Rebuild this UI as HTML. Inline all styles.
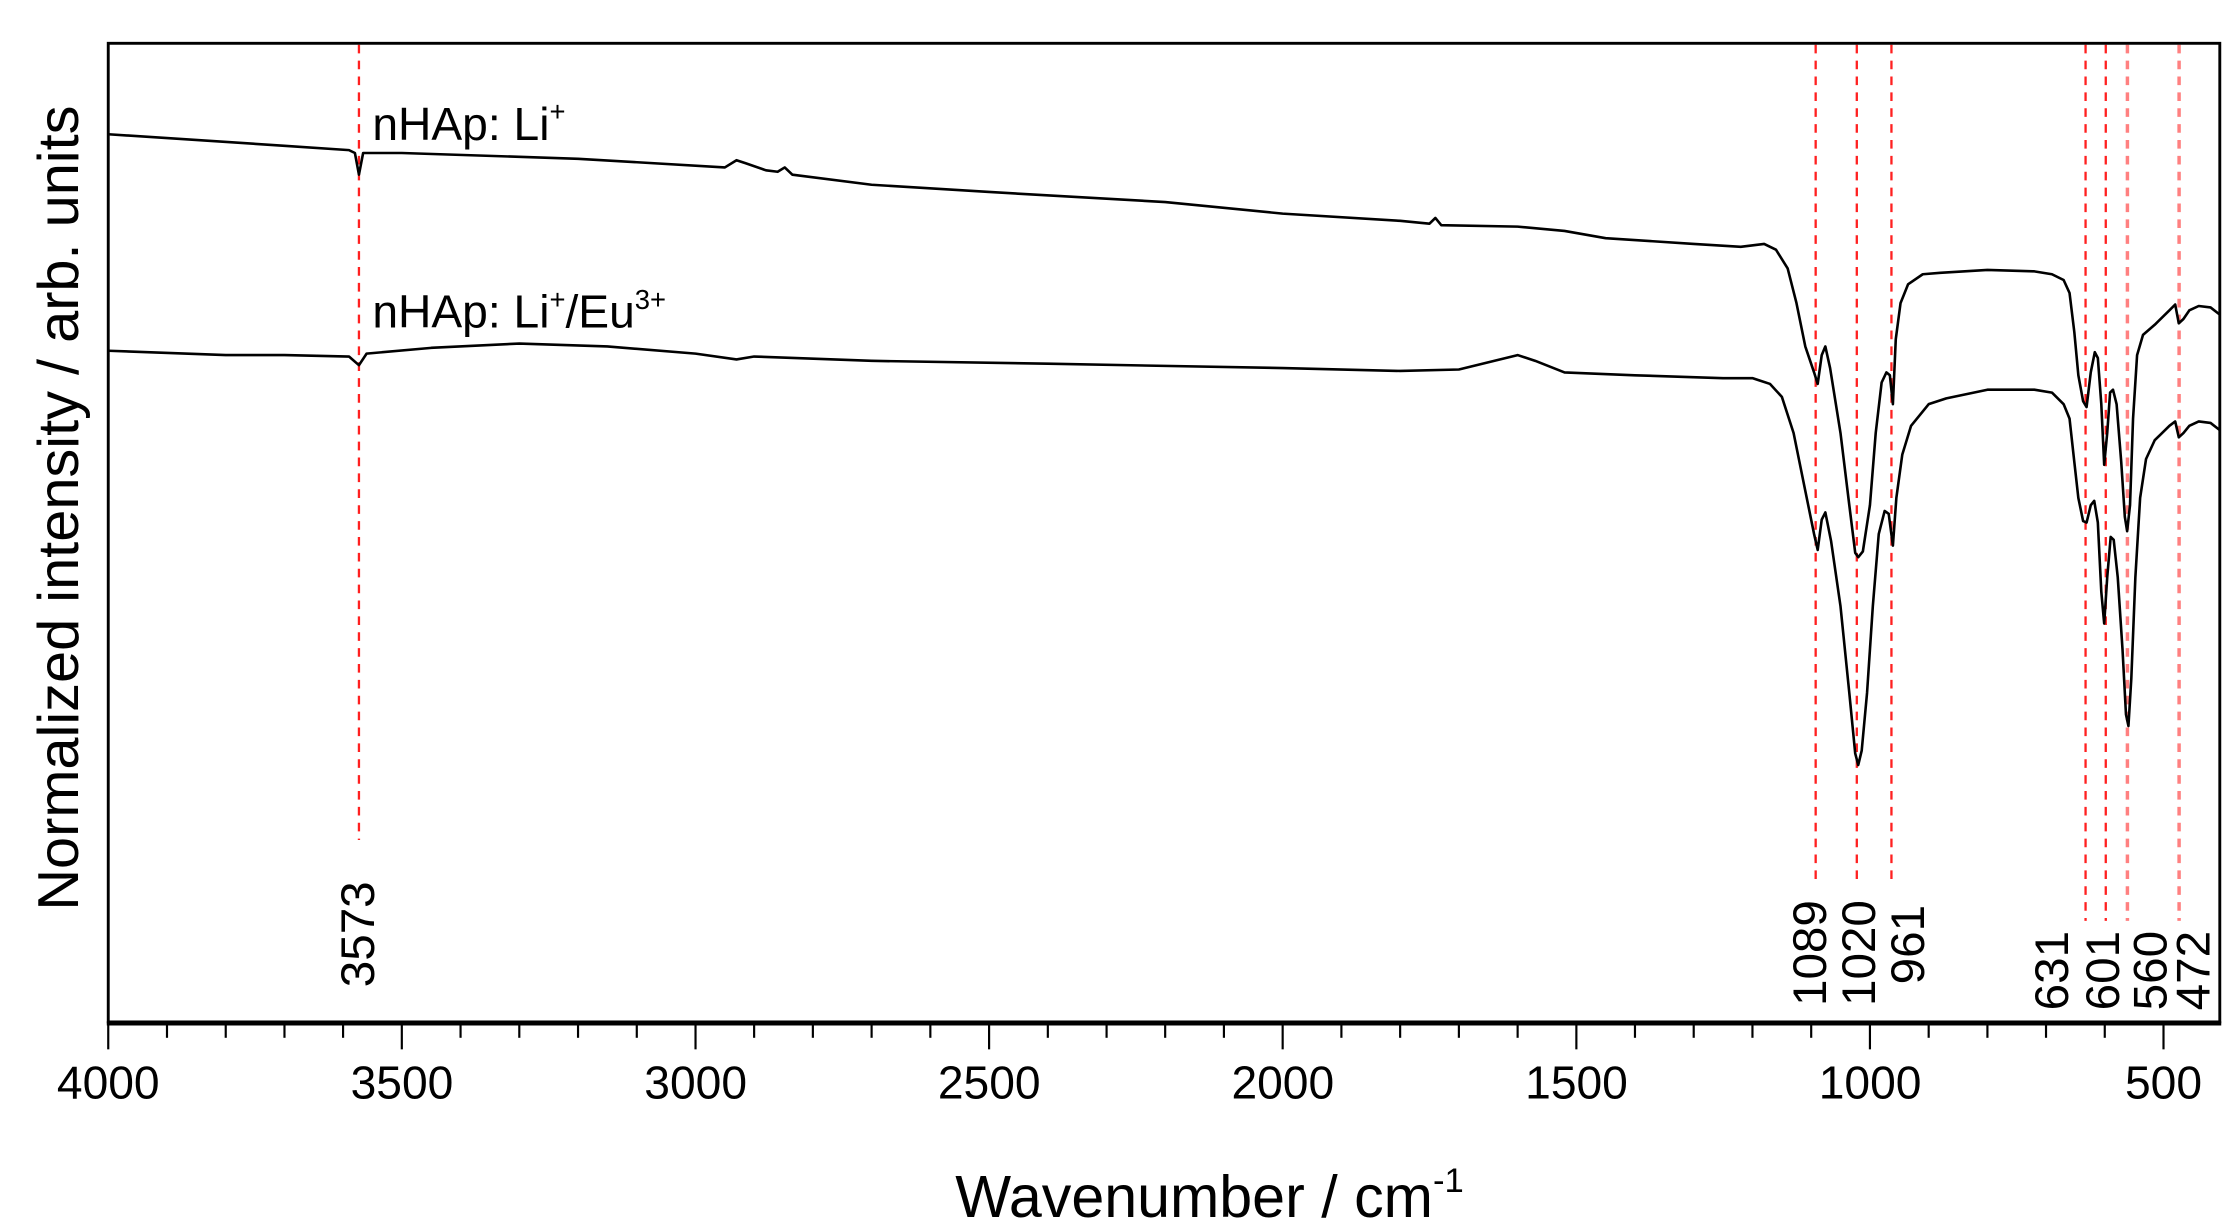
<!DOCTYPE html>
<html><head><meta charset="utf-8"><style>
html,body{margin:0;padding:0;background:#fff;}
svg{display:block;}
text{font-family:"Liberation Sans",Arial,sans-serif;fill:#000;}
</style></head><body>
<svg width="2240" height="1224" viewBox="0 0 1552 848" preserveAspectRatio="none" xmlns="http://www.w3.org/2000/svg">
<rect x="0" y="0" width="1552" height="848" fill="#fff"/>
<g stroke="#ff2020" stroke-width="1.6" stroke-dasharray="6,5" fill="none">
<line x1="248.7" y1="31" x2="248.7" y2="582"/>
<line x1="1258" y1="31" x2="1258" y2="612"/>
<line x1="1286.5" y1="31" x2="1286.5" y2="612"/>
<line x1="1310.5" y1="31" x2="1310.5" y2="612"/>
<line x1="1445" y1="31" x2="1445" y2="638"/>
<line x1="1459" y1="31" x2="1459" y2="638"/>
<line x1="1474" y1="31" x2="1474" y2="638" stroke="#ff8080" stroke-width="2.4"/>
<line x1="1509.8" y1="31" x2="1509.8" y2="638" stroke="#ff8080" stroke-width="2.4"/>
</g>
<g fill="none" stroke="#000" stroke-width="1.8" stroke-linejoin="round">
<polyline points="75,93 197.1,101 241.8,104 245.9,106 248.7,121 251.6,106 278.4,106 400.5,110 502.2,116 510.3,111 516.4,113 530.7,118 538.8,119 543.7,116 549,121 603.9,128 685.3,133 807.3,140 888.7,148 970.1,153 990.4,155 994.5,151 998.6,156 1051.5,157 1084,160 1112.5,165 1173.5,169 1206.1,171 1222.3,169 1230.5,173 1238.6,186 1244.7,210 1250.8,240 1256.9,258 1259.4,266 1262.2,246 1264.7,240 1268,255 1275.2,300 1281.3,350 1285.4,383 1287.5,386 1290.7,382 1295.6,350 1299.6,300 1303.7,265 1307,258 1309.4,260 1311.5,280 1313.5,235 1316.8,210 1322,197 1332.2,190 1344.4,189 1377,187 1409.5,188 1421.7,190 1429.8,194 1433.9,203 1437.2,230 1440,260 1443.3,278 1445.7,282 1448.6,258 1451.4,244 1453.5,248 1455.9,280 1457.9,322 1460,300 1462,272 1464,270 1466.5,280 1469.7,320 1472.2,358 1473.8,368 1475.8,350 1477.9,290 1480.7,246 1484.8,232 1492.9,225 1503.1,215 1507.1,211 1509.6,224 1512.8,221 1516.9,215 1523.4,212 1531.6,213 1538,218"/>
<polyline points="75,243 156.4,246 197.1,246 241.8,247 248.7,253 254,245 298.8,241 359.8,238 420.8,240 481.9,245 510.3,249 522.5,247 603.9,250 726,252 888.7,255 970.1,257 1010.8,256 1035.2,250 1051.5,246 1063.7,250 1084,258 1132.8,260 1193.9,262 1214.2,262 1226.4,266 1234.6,275 1242.7,300 1250.8,340 1256.9,370 1259.4,381 1262.2,360 1264.7,355 1268.7,375 1275.2,420 1281.3,480 1285.4,522 1287.5,530 1289.9,520 1293.6,480 1297.6,420 1301.7,370 1305.8,354 1308.6,356 1311.5,378 1313.9,345 1318,315 1324.1,295 1336.3,280 1348.5,276 1377,270 1409.5,270 1421.7,272 1429.8,280 1433.9,290 1437.2,320 1440,345 1443.3,361 1445.7,362 1448.6,350 1451,347 1453.5,362 1455.9,410 1457.9,432 1460,400 1462.4,372 1464.5,374 1467.3,400 1470.6,450 1473,495 1474.7,503 1476.7,470 1479.5,400 1482.8,345 1486.9,318 1492.9,305 1503.1,295 1507.1,292 1509.6,303 1512.8,300 1516.9,295 1523.4,292 1531.6,293 1538,298"/>
</g>
<rect x="75" y="30" width="1463" height="678" fill="none" stroke="#000" stroke-width="2"/>
<line x1="74" y1="709" x2="1539" y2="709" stroke="#000" stroke-width="3"/>
<g stroke="#000" stroke-width="1.5">
<line x1="75" y1="710" x2="75" y2="727"/><line x1="115.7" y1="710" x2="115.7" y2="719"/><line x1="156.4" y1="710" x2="156.4" y2="719"/><line x1="197.1" y1="710" x2="197.1" y2="719"/><line x1="237.7" y1="710" x2="237.7" y2="719"/>
<line x1="278.4" y1="710" x2="278.4" y2="727"/><line x1="319.1" y1="710" x2="319.1" y2="719"/><line x1="359.8" y1="710" x2="359.8" y2="719"/><line x1="400.5" y1="710" x2="400.5" y2="719"/><line x1="441.2" y1="710" x2="441.2" y2="719"/>
<line x1="481.9" y1="710" x2="481.9" y2="727"/><line x1="522.5" y1="710" x2="522.5" y2="719"/><line x1="563.2" y1="710" x2="563.2" y2="719"/><line x1="603.9" y1="710" x2="603.9" y2="719"/><line x1="644.6" y1="710" x2="644.6" y2="719"/>
<line x1="685.3" y1="710" x2="685.3" y2="727"/><line x1="726" y1="710" x2="726" y2="719"/><line x1="766.7" y1="710" x2="766.7" y2="719"/><line x1="807.3" y1="710" x2="807.3" y2="719"/><line x1="848" y1="710" x2="848" y2="719"/>
<line x1="888.7" y1="710" x2="888.7" y2="727"/><line x1="929.4" y1="710" x2="929.4" y2="719"/><line x1="970.1" y1="710" x2="970.1" y2="719"/><line x1="1010.8" y1="710" x2="1010.8" y2="719"/><line x1="1051.5" y1="710" x2="1051.5" y2="719"/>
<line x1="1092.2" y1="710" x2="1092.2" y2="727"/><line x1="1132.8" y1="710" x2="1132.8" y2="719"/><line x1="1173.5" y1="710" x2="1173.5" y2="719"/><line x1="1214.2" y1="710" x2="1214.2" y2="719"/><line x1="1254.9" y1="710" x2="1254.9" y2="719"/>
<line x1="1295.6" y1="710" x2="1295.6" y2="727"/><line x1="1336.3" y1="710" x2="1336.3" y2="719"/><line x1="1377" y1="710" x2="1377" y2="719"/><line x1="1417.6" y1="710" x2="1417.6" y2="719"/><line x1="1458.3" y1="710" x2="1458.3" y2="719"/>
<line x1="1499" y1="710" x2="1499" y2="727"/>
</g>
<g font-size="32" text-anchor="middle">
<text x="75" y="761">4000</text><text x="278.5" y="761">3500</text><text x="482" y="761">3000</text>
<text x="685.4" y="761">2500</text><text x="888.8" y="761">2000</text><text x="1092.3" y="761">1500</text>
<text x="1295.7" y="761">1000</text><text x="1499" y="761">500</text>
</g>
<text x="838" y="843" font-size="41" text-anchor="middle">Wavenumber / cm<tspan font-size="24" dy="-17">-1</tspan></text>
<text transform="translate(54,352) rotate(-90)" font-size="40" text-anchor="middle">Normalized intensity / arb. units</text>
<text x="258" y="97" font-size="32">nHAp: Li<tspan font-size="19" dy="-13">+</tspan></text>
<text x="258" y="227" font-size="32">nHAp: Li<tspan font-size="19" dy="-13">+</tspan><tspan dy="13">/Eu</tspan><tspan font-size="19" dy="-13">3+</tspan></text>
<g font-size="33">
<text transform="translate(259,684) rotate(-90)">3573</text>
<text transform="translate(1265,697) rotate(-90)">1089</text>
<text transform="translate(1299,697) rotate(-90)">1020</text>
<text transform="translate(1333,682) rotate(-90)">961</text>
<text transform="translate(1433,700) rotate(-90)">631</text>
<text transform="translate(1468,700) rotate(-90)">601</text>
<text transform="translate(1501,700) rotate(-90)">560</text>
<text transform="translate(1531,700) rotate(-90)">472</text>
</g>
</svg>
</body></html>
